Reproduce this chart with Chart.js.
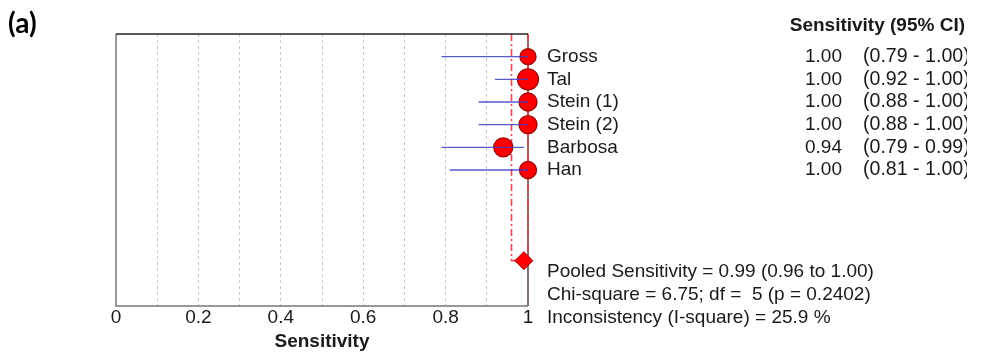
<!DOCTYPE html>
<html>
<head>
<meta charset="utf-8">
<script src="https://cdn.jsdelivr.net/npm/chart.js@4.4.0/dist/chart.umd.min.js"></script>
<style>
html,body{margin:0;padding:0;background:#fff;}
#wrap{width:1000px;height:356px;position:relative;}
</style>
</head>
<body>
<div id="wrap"><canvas id="c" width="1000" height="356"></canvas></div>
<script>
const studies = ["Gross", "Tal", "Stein (1)", "Stein (2)", "Barbosa", "Han"];
const sens = [1.00, 1.00, 1.00, 1.00, 0.94, 1.00];
const ciLow = [0.79, 0.92, 0.88, 0.88, 0.79, 0.81];
const ciHigh = [1.00, 1.00, 1.00, 1.00, 0.99, 1.00];
const weights = [8, 10.5, 9, 9, 9.5, 8.5];
const pooled = 0.99;
const pooledLow = 0.96;
const pooledHigh = 1.00;
const xTicks = [0, 0.2, 0.4, 0.6, 0.8, 1];
const statsLines = [
  "Pooled Sensitivity = 0.99 (0.96 to 1.00)",
  "Chi-square = 6.75; df =  5 (p = 0.2402)",
  "Inconsistency (I-square) = 25.9 %"
];
const headerText = "Sensitivity (95% CI)";
const panelLabel = "(a)";
const pooledRow = 10;

const FONT = "'Liberation Sans', Arial, sans-serif";

const ciData = [];
studies.forEach((s, i) => {
  ciData.push({x: ciLow[i], y: i + 1});
  ciData.push({x: ciHigh[i], y: i + 1});
  ciData.push({x: null, y: null});
});
const bubbleData = studies.map((s, i) => ({x: sens[i], y: i + 1, r: weights[i]}));
const dashLeft = [{x: pooledLow, y: 0}, {x: pooledLow, y: pooledRow}, {x: pooled, y: pooledRow}];
const dashRight = [{x: pooledHigh, y: 0}, {x: pooledHigh, y: pooledRow}];

const textPlugin = {
  id: 'texts',
  beforeDatasetsDraw(chart) {
    const ctx = chart.ctx;
    const ca = chart.chartArea;
    ctx.save();
    ctx.lineWidth = 1.5;
    ctx.strokeStyle = '#5a4444';
    ctx.beginPath();
    ctx.moveTo(ca.right, ca.top); ctx.lineTo(ca.right, ca.bottom);
    ctx.stroke();
    ctx.restore();
  },
  afterDraw(chart) {
    const ctx = chart.ctx;
    const ys = chart.scales.y;
    const ca = chart.chartArea;
    ctx.save();
    ctx.lineWidth = 1.5;
    ctx.strokeStyle = '#777';
    ctx.beginPath();
    ctx.moveTo(ca.left, ca.top); ctx.lineTo(ca.left, ca.bottom); ctx.lineTo(ca.right, ca.bottom);
    ctx.stroke();
    ctx.strokeStyle = '#222';
    ctx.beginPath();
    ctx.moveTo(ca.left, ca.top); ctx.lineTo(ca.right, ca.top);
    ctx.stroke();

    ctx.fillStyle = '#1a1a1a';
    ctx.textBaseline = 'middle';
    ctx.font = "19px " + FONT;
    studies.forEach((s, i) => {
      const y = ys.getPixelForValue(i + 1);
      ctx.textAlign = 'left';
      ctx.fillText(s, 547, y);
      ctx.textAlign = 'right';
      ctx.fillText(sens[i].toFixed(2), 842, y);
    });
    ctx.save();
    ctx.beginPath();
    ctx.rect(850, 0, 117, 356);
    ctx.clip();
    ctx.textAlign = 'left';
    ctx.font = "19.6px " + FONT;
    studies.forEach((s, i) => {
      const y = ys.getPixelForValue(i + 1);
      ctx.fillText("(" + ciLow[i].toFixed(2) + " - " + ciHigh[i].toFixed(2) + ")", 863, y);
    });
    ctx.restore();
    ctx.font = "19px " + FONT;
    ctx.textAlign = 'left';
    statsLines.forEach((t, k) => {
      ctx.fillText(t, 547, 272 + k * 23);
    });
    ctx.font = "bold 19px " + FONT;
    ctx.textAlign = 'right';
    ctx.fillText(headerText, 965, 26);
    ctx.font = "bold 28px Lato, 'Open Sans', sans-serif";
    ctx.textAlign = 'left';
    ctx.fillStyle = '#000';
    ctx.fillText(panelLabel, 8, 24);
    ctx.restore();
  }
};

new Chart(document.getElementById('c'), {
  type: 'scatter',
  data: {
    datasets: [
      {type: 'line', data: dashLeft, borderColor: 'rgba(235,60,70,0.95)', borderWidth: 1.6, borderDash: [7,3,2,3], pointRadius: 0, fill: false, clip: false, order: 3},
      {type: 'line', data: dashRight, borderColor: 'rgba(235,60,70,0.95)', borderWidth: 1.6, borderDash: [7,3,2,3], pointRadius: 0, fill: false, clip: false, order: 3},
      {type: 'bubble', data: bubbleData, backgroundColor: '#ff0000', borderColor: '#a00000', borderWidth: 1.3, clip: false, order: 2},
      {type: 'line', data: ciData, borderColor: 'rgba(60,60,200,0.85)', borderWidth: 1.3, pointRadius: 0, spanGaps: false, fill: false, clip: false, order: 1},
      {type: 'scatter', data: [{x: pooled, y: pooledRow}], pointStyle: 'rectRot', pointRadius: 9, backgroundColor: '#ff0000', borderColor: '#a00000', borderWidth: 1, clip: false, order: 0}
    ]
  },
  options: {
    responsive: false,
    animation: false,
    events: [],
    layout: {padding: {left: 116, right: 472, top: 34, bottom: 0}},
    plugins: {legend: {display: false}, tooltip: {enabled: false}},
    scales: {
      x: {
        type: 'linear', min: 0, max: 1,
        afterFit(scale) { scale.height = 50; },
        afterBuildTicks(scale) {
          scale.ticks = [0,0.1,0.2,0.3,0.4,0.5,0.6,0.7,0.8,0.9,1].map(v => ({value: v}));
        },
        ticks: {
          padding: 0,
          color: '#1a1a1a',
          font: {family: FONT, size: 19},
          maxRotation: 0,
          autoSkip: false,
          callback(v) {
            const m = xTicks.find(t => Math.abs(t - v) < 1e-6);
            return m === undefined ? '' : String(m);
          }
        },
        grid: {
          drawTicks: false,
          color(ctx) {
            const v = ctx.tick ? ctx.tick.value : 0;
            return (v < 0.05 || v > 0.95) ? 'rgba(0,0,0,0)' : '#c8c8c8';
          },
          lineWidth: 1
        },
        border: {display: false, dash: [3,3]},
        title: {display: true, text: 'Sensitivity', color: '#1a1a1a', font: {family: FONT, size: 19, weight: 'bold'}, padding: {top: 0, bottom: 3}}
      },
      y: {
        type: 'linear', min: 0, max: 12, reverse: true, display: false
      }
    }
  },
  plugins: [textPlugin]
});
</script>
</body>
</html>
